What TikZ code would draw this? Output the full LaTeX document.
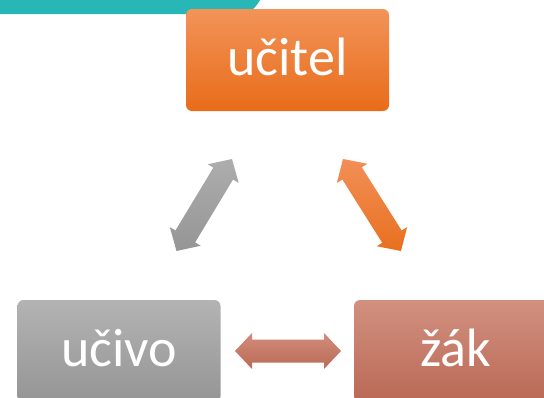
\documentclass[tikz,border=0pt]{standalone}
\usepackage{fontspec}
\setmainfont{Carlito}
\usetikzlibrary{calc}
\definecolor{teal1}{HTML}{29B6B6}
\definecolor{orT}{HTML}{F29358}
\definecolor{orB}{HTML}{E86C1A}
\definecolor{grT}{HTML}{B3B3B3}
\definecolor{grB}{HTML}{959595}
\definecolor{ruT}{HTML}{D2907F}
\definecolor{ruB}{HTML}{BA6956}
\definecolor{agT}{HTML}{ADADAD}
\definecolor{agB}{HTML}{959595}
\definecolor{aoT}{HTML}{F28F57}
\definecolor{aoB}{HTML}{E8701F}
\definecolor{arT}{HTML}{D28C7A}
\definecolor{arB}{HTML}{BA6A57}
\tikzset{
  card/.style={rectangle, rounded corners=6pt, minimum width=203pt, minimum height=102pt,
    text=white, font=\fontsize{54}{62}\selectfont, text height=38pt, text depth=7pt, inner sep=0pt},
}
% #1 start, #2 end, #3 style
\newcommand{\blockarrow}[3]{%
  \path[#3] (#1)
    -- ($(#1)!17pt!(#2)!18pt!90:(#2)$)
    -- ($(#1)!17pt!(#2)!11.5pt!90:(#2)$)
    -- ($(#2)!17pt!(#1)!11.5pt!-90:(#1)$)
    -- ($(#2)!17pt!(#1)!18pt!-90:(#1)$)
    -- (#2)
    -- ($(#2)!17pt!(#1)!18pt!90:(#1)$)
    -- ($(#2)!17pt!(#1)!11.5pt!90:(#1)$)
    -- ($(#1)!17pt!(#2)!11.5pt!-90:(#2)$)
    -- ($(#1)!17pt!(#2)!18pt!-90:(#2)$)
    -- cycle;}
\begin{document}
\begin{tikzpicture}[x=1pt,y=-1pt]
\useasboundingbox (0,0) rectangle (544,397);
\clip (0,0) rectangle (544,397);
\fill[teal1, rounded corners=5pt] (-10,-10) -- (267,-10) -- (254,9) -- (245,14) [sharp corners] -- (-10,14) -- cycle;
\node[card, top color=orT, bottom color=orB] (ucitel) at (287.5,60) {učitel};
\node[card, top color=grT, bottom color=grB] (ucivo) at (119,351) {učivo};
\node[card, top color=ruT, bottom color=ruB] (zak) at (455.5,351) {žák};
\coordinate (g1) at (232,159);
\coordinate (g2) at (176.5,251);
\coordinate (o1) at (343,159);
\coordinate (o2) at (401,251);
\coordinate (h1) at (235,351);
\coordinate (h2) at (341,351);
\blockarrow{g1}{g2}{top color=agT, bottom color=agB}
\blockarrow{o1}{o2}{top color=aoT, bottom color=aoB}
\blockarrow{h1}{h2}{top color=arT, bottom color=arB}
\end{tikzpicture}
\end{document}
